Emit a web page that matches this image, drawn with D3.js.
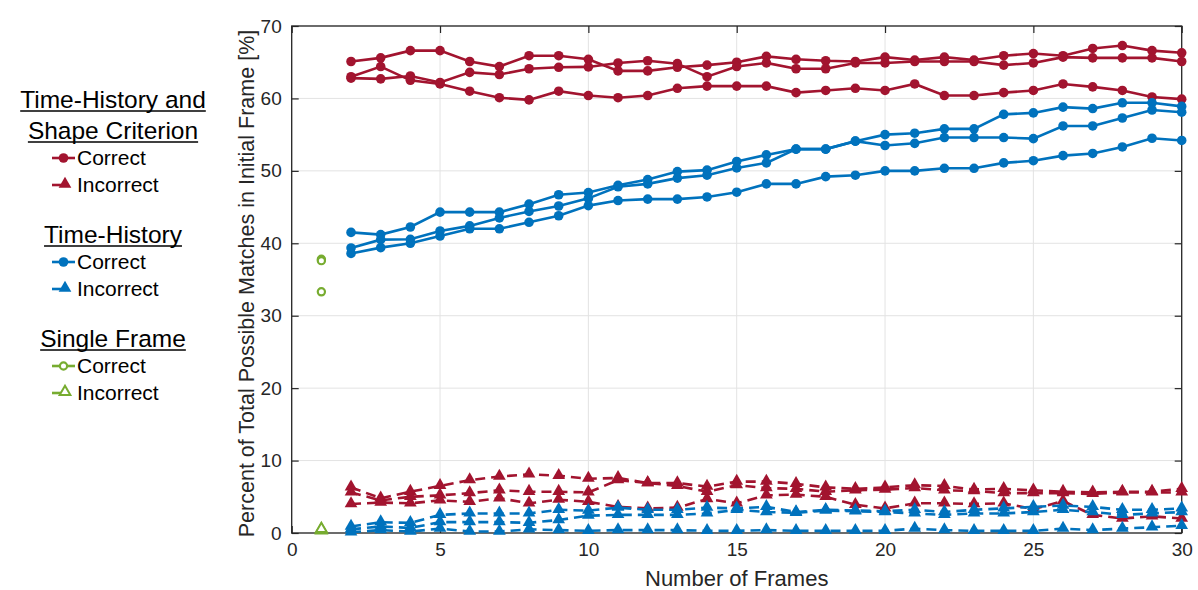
<!DOCTYPE html>
<html>
<head>
<meta charset="utf-8">
<script src="https://cdn.jsdelivr.net/npm/d3@7"></script>
<style>
  body { margin: 0; background: #fff; }
  text { font-family: Arial, "Liberation Sans", sans-serif; fill: #262626; }
</style>
</head>
<body>
<div id="chart"></div>
<script>
// x values (number of frames)
var frames = [2,3,4,5,6,7,8,9,10,11,12,13,14,15,16,17,18,19,20,21,22,23,24,25,26,27,28,29,30];

// Time-History and Shape Criterion - correct
var shapeCorrectA = [65.1,65.6,66.6,66.6,65.1,64.4,65.9,65.9,65.4,63.8,63.8,64.3,64.6,65.0,65.8,65.4,65.2,65.1,65.7,65.3,65.7,65.3,65.9,66.2,65.9,66.9,67.3,66.6,66.3];
var shapeCorrectB = [63.0,64.4,62.5,62.0,61.0,60.1,59.8,61.0,60.4,60.1,60.4,61.4,61.7,61.7,61.7,60.8,61.1,61.4,61.1,62.0,60.4,60.4,60.8,61.1,62.0,61.6,61.1,60.2,59.9];
var shapeCorrectC = [62.8,62.7,63.1,62.2,63.6,63.3,64.1,64.3,64.35,64.9,65.2,64.8,63.0,64.4,64.9,64.1,64.1,64.9,64.9,65.1,65.1,65.1,64.6,64.9,65.7,65.6,65.6,65.6,65.1];
// Time-History and Shape Criterion - incorrect
var shapeWrongA = [6.3,4.8,5.7,6.5,7.3,7.8,8.1,7.9,7.5,7.6,6.9,6.9,6.4,7.1,7.1,6.8,6.3,6.1,6.3,6.6,6.5,6.0,6.1,5.9,5.7,5.6,5.7,5.7,6.1];
var shapeWrongB = [5.6,4.5,5.0,5.2,5.5,5.9,5.7,5.7,5.6,7.3,6.9,6.5,5.7,6.6,6.2,6.1,5.7,5.9,6.0,6.2,5.9,5.8,5.5,5.5,5.5,5.4,5.6,5.6,5.6];
var shapeWrongC = [4.0,4.2,4.1,4.5,4.3,4.8,4.1,4.6,4.3,3.6,3.4,3.5,4.7,4.1,5.2,5.3,5.0,3.9,3.4,4.1,4.1,4.0,4.1,3.3,4.4,2.5,2.0,2.3,2.0];

// Time-History - correct
var timeCorrectA = [41.5,41.2,42.25,44.3,44.3,44.3,45.4,46.7,47.0,48.0,48.8,49.9,50.1,51.3,52.2,53.0,53.0,54.1,55.0,55.2,55.8,55.8,57.8,58.0,58.8,58.6,59.4,59.4,58.9];
var timeCorrectB = [39.35,40.5,40.55,41.7,42.4,43.5,44.4,45.15,46.2,47.8,48.2,49.0,49.4,50.4,51.1,53.0,53.0,54.1,53.5,53.8,54.6,54.6,54.6,54.45,56.2,56.2,57.3,58.4,58.1];
var timeCorrectC = [38.6,39.4,40.0,41.0,42.0,42.0,42.9,43.8,45.2,45.9,46.1,46.1,46.4,47.05,48.2,48.2,49.2,49.4,50.0,50.0,50.35,50.35,51.1,51.4,52.1,52.4,53.3,54.5,54.2];
// Time-History - incorrect
var timeWrongA = [0.9,1.5,1.4,2.5,2.7,2.7,2.7,3.2,3.1,3.5,3.2,3.2,3.5,3.4,3.6,2.9,3.2,3.1,3.0,3.2,2.9,3.2,3.4,3.6,3.8,3.6,3.2,3.2,3.4];
var timeWrongB = [0.5,0.9,0.7,1.5,1.5,1.5,1.4,1.8,2.4,2.5,2.5,2.5,2.7,3.2,2.9,2.8,3.1,3.0,2.9,2.7,2.5,2.7,2.7,2.9,3.2,2.9,2.5,2.7,2.9];
var timeWrongC = [0.1,0.4,0.2,0.6,0.2,0.2,0.5,0.4,0.3,0.4,0.4,0.4,0.3,0.3,0.4,0.3,0.3,0.3,0.3,0.6,0.4,0.3,0.3,0.3,0.6,0.4,0.6,0.8,1.0];

// Single Frame (x = 1)
var singleFrame = [1];
var singleCorrect = [37.8, 37.6, 33.3];
var singleWrong = [0.3, 0.4, 0.5];

var xTicks = [0,5,10,15,20,25,30];
var yTicks = [0,10,20,30,40,50,60,70];

var red = "#A2142F", blue = "#0072BD", green = "#77AC30";

var svgWidth = 1198, svgHeight = 590;
var plot = { left: 291.7, right: 1181.7, top: 26, bottom: 533 };

var svg = d3.select("#chart").append("svg")
  .attr("width", svgWidth)
  .attr("height", svgHeight);

var x = d3.scaleLinear().domain([0, 30]).range([plot.left, plot.right]);
var y = d3.scaleLinear().domain([0, 70]).range([plot.bottom, plot.top]);

// grid
svg.append("g").selectAll("line").data(xTicks).enter().append("line")
  .attr("x1", d => x(d)).attr("x2", d => x(d))
  .attr("y1", plot.top).attr("y2", plot.bottom)
  .attr("stroke", "#e3e3e3").attr("stroke-width", 1);
svg.append("g").selectAll("line").data(yTicks).enter().append("line")
  .attr("x1", plot.left).attr("x2", plot.right)
  .attr("y1", d => y(d)).attr("y2", d => y(d))
  .attr("stroke", "#e3e3e3").attr("stroke-width", 1);

// axes (ticks inside, box on)
var bottomAxis = d3.axisBottom(x).tickValues(xTicks).tickSizeInner(-7).tickSizeOuter(0).tickPadding(10);
var leftAxis = d3.axisLeft(y).tickValues(yTicks).tickSizeInner(-7).tickSizeOuter(0).tickPadding(10);
var topAxis = d3.axisTop(x).tickValues(xTicks).tickSizeInner(-7).tickSizeOuter(0).tickFormat("");
var rightAxis = d3.axisRight(y).tickValues(yTicks).tickSizeInner(-7).tickSizeOuter(0).tickFormat("");

function styleAxis(g) {
  g.select(".domain").remove();
  g.selectAll(".tick line").attr("stroke", "#262626").attr("stroke-width", 1.2);
  g.selectAll(".tick text").attr("fill", "#262626").style("font-size", "19px")
    .style("font-family", "Arial, 'Liberation Sans', sans-serif");
}

svg.append("g").attr("transform", `translate(0, ${plot.bottom})`).call(bottomAxis).call(styleAxis);
svg.append("g").attr("transform", `translate(${plot.left}, 0)`).call(leftAxis).call(styleAxis);
svg.append("g").attr("transform", `translate(0, ${plot.top})`).call(topAxis).call(styleAxis);
svg.append("g").attr("transform", `translate(${plot.right}, 0)`).call(rightAxis).call(styleAxis);

svg.append("rect")
  .attr("x", plot.left).attr("y", plot.top)
  .attr("width", plot.right - plot.left).attr("height", plot.bottom - plot.top)
  .attr("fill", "none").attr("stroke", "#262626").attr("stroke-width", 1.3);

// axis labels
svg.append("text")
  .attr("x", (plot.left + plot.right) / 2).attr("y", 586)
  .attr("text-anchor", "middle").style("font-size", "22px")
  .text("Number of Frames");

svg.append("text")
  .attr("transform", `translate(254, ${(plot.top + plot.bottom) / 2 + 4}) rotate(-90)`)
  .attr("text-anchor", "middle").style("font-size", "21.5px")
  .text("Percent of Total Possible Matches in Initial Frame [%]");

// series
var line = d3.line().x(d => x(d[0])).y(d => y(d[1]));
var tri = d3.symbol().type(d3.symbolTriangle).size(70);

function drawSeries(values, color, dashed) {
  var pts = frames.map((f, i) => [f, values[i]]);
  var g = svg.append("g");
  g.append("path").datum(pts)
    .attr("d", line)
    .attr("fill", "none")
    .attr("stroke", color)
    .attr("stroke-width", 2.6)
    .attr("stroke-dasharray", dashed ? "10,6" : null);
  if (dashed) {
    g.selectAll("path.m").data(pts).enter().append("path")
      .attr("class", "m")
      .attr("d", tri)
      .attr("transform", d => `translate(${x(d[0])}, ${y(d[1]) - 0.5})`)
      .attr("fill", color);
  } else {
    g.selectAll("circle").data(pts).enter().append("circle")
      .attr("cx", d => x(d[0])).attr("cy", d => y(d[1]))
      .attr("r", 4.8).attr("fill", color);
  }
}

[shapeCorrectA, shapeCorrectB, shapeCorrectC].forEach(s => drawSeries(s, red, false));
[shapeWrongA, shapeWrongB, shapeWrongC].forEach(s => drawSeries(s, red, true));
[timeCorrectA, timeCorrectB, timeCorrectC].forEach(s => drawSeries(s, blue, false));
[timeWrongA, timeWrongB, timeWrongC].forEach(s => drawSeries(s, blue, true));

// single frame (open markers)
svg.append("g").selectAll("circle").data(singleCorrect).enter().append("circle")
  .attr("cx", x(singleFrame[0])).attr("cy", d => y(d))
  .attr("r", 3.6).attr("fill", "#fff").attr("stroke", green).attr("stroke-width", 2.2);
svg.append("g").selectAll("path").data(singleWrong).enter().append("path")
  .attr("d", d3.symbol().type(d3.symbolTriangle).size(50))
  .attr("transform", d => `translate(${x(singleFrame[0])}, ${y(d) - 0.5})`)
  .attr("fill", "#fff").attr("stroke", green).attr("stroke-width", 2);

// legend
var legend = svg.append("g");
var groups = [
  { title: ["Time-History and", "Shape Criterion"], y: 108, color: red, open: false },
  { title: ["Time-History"], y: 243, color: blue, open: false },
  { title: ["Single Frame"], y: 347, color: green, open: true }
];

groups.forEach(function(gr) {
  var ty = gr.y;
  gr.title.forEach(function(t, i) {
    var txt = legend.append("text")
      .attr("x", 113).attr("y", ty + i * 31)
      .attr("text-anchor", "middle")
      .style("font-size", "24.5px").style("fill", "#000")
      .text(t);
    var w = txt.node().getComputedTextLength();
    legend.append("line")
      .attr("x1", 113 - w / 2).attr("x2", 113 + w / 2)
      .attr("y1", ty + i * 31 + 3).attr("y2", ty + i * 31 + 3)
      .attr("stroke", "#000").attr("stroke-width", 1.3);
  });
  var rowY = ty + (gr.title.length - 1) * 31 + 19;
  ["Correct", "Incorrect"].forEach(function(label, j) {
    var cy = rowY + j * 27;
    legend.append("line")
      .attr("x1", 52).attr("x2", 75)
      .attr("y1", cy).attr("y2", cy)
      .attr("stroke", gr.color).attr("stroke-width", 2.6)
      .attr("stroke-dasharray", j === 1 ? "9,14" : null);
    if (j === 0) {
      legend.append("circle").attr("cx", 63.5).attr("cy", cy)
        .attr("r", gr.open ? 3.6 : 4.8)
        .attr("fill", gr.open ? "#fff" : gr.color)
        .attr("stroke", gr.open ? gr.color : "none").attr("stroke-width", 2.2);
    } else {
      legend.append("path")
        .attr("d", d3.symbol().type(d3.symbolTriangle).size(gr.open ? 50 : 70))
        .attr("transform", `translate(65, ${cy - 1})`)
        .attr("fill", gr.open ? "#fff" : gr.color)
        .attr("stroke", gr.open ? gr.color : "none").attr("stroke-width", 2);
    }
    legend.append("text")
      .attr("x", 77).attr("y", cy + 7)
      .style("font-size", "21px").style("fill", "#000")
      .text(label);
  });
});
</script>
</body>
</html>
